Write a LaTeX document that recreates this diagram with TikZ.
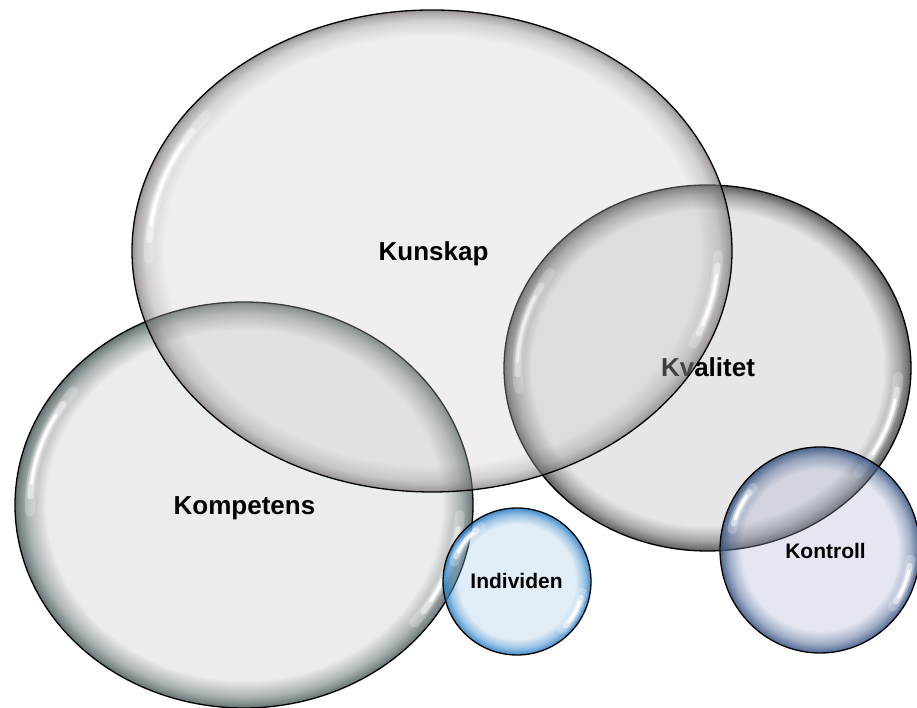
\documentclass[tikz,border=0pt]{standalone}
\usepackage{fontspec}
\setmainfont{Liberation Sans}
\usetikzlibrary{shapes.geometric,fadings}
\definecolor{kunBody}{RGB}{205,200,202}
\definecolor{kunRing}{RGB}{95,88,88}
\definecolor{komBody}{RGB}{190,192,192}
\definecolor{komRing}{RGB}{40,60,60}
\definecolor{kvaBody}{RGB}{172,172,172}
\definecolor{kvaRing}{RGB}{30,30,30}
\definecolor{indBody}{RGB}{160,198,228}
\definecolor{indRing}{RGB}{30,120,195}
\definecolor{konBody}{RGB}{165,175,210}
\definecolor{konRing}{RGB}{48,78,125}
\pgfdeclareradialshading{ringbigsh}{\pgfpointorigin}{color(0bp)=(pgftransparent!100); color(22.2bp)=(pgftransparent!100); color(23.8bp)=(pgftransparent!80); color(24.6bp)=(pgftransparent!55); color(25bp)=(pgftransparent!32); color(50bp)=(pgftransparent!32)}
\pgfdeclarefading{ringbig}{\pgfuseshading{ringbigsh}}
\pgfdeclareradialshading{ringmidsh}{\pgfpointorigin}{color(0bp)=(pgftransparent!100); color(21.5bp)=(pgftransparent!100); color(23.5bp)=(pgftransparent!68); color(24.6bp)=(pgftransparent!40); color(25bp)=(pgftransparent!25); color(50bp)=(pgftransparent!25)}
\pgfdeclarefading{ringmid}{\pgfuseshading{ringmidsh}}
\pgfdeclareradialshading{ringsmallsh}{\pgfpointorigin}{color(0bp)=(pgftransparent!100); color(19.5bp)=(pgftransparent!100); color(22.5bp)=(pgftransparent!65); color(24.3bp)=(pgftransparent!30); color(25bp)=(pgftransparent!12); color(50bp)=(pgftransparent!12)}
\pgfdeclarefading{ringsmall}{\pgfuseshading{ringsmallsh}}
\tikzset{
  bubble/.style={ellipse, inner sep=0pt, outer sep=0pt, draw=black, line width=1.3pt,
    fill opacity=0.3, draw opacity=1},
  ring/.style 2 args={path picture={\fill[#1, fill opacity=1, path fading=#2]
    (path picture bounding box.south west) rectangle (path picture bounding box.north east);}},
  hlhalo/.style={white, line width=10pt, opacity=0.25, line cap=round},
  hlglow/.style={white, line width=6pt, opacity=0.5, line cap=round},
  hlcore/.style={white, line width=3pt, opacity=0.95, line cap=round},
  bigtext/.style={font=\bfseries\fontsize{26}{30}\selectfont, anchor=base, inner sep=0pt},
  smalltext/.style={font=\bfseries\fontsize{21}{25}\selectfont, anchor=base, inner sep=0pt}
}
\newcommand\bubhl[6]{\draw[#6, shift={(#1.center)}] (#4:#2 and #3) arc[start angle=#4, end angle=#5, x radius=#2, y radius=#3];}
\newcommand\bubshine[5]{%
  \pgfmathsetmacro\hlA{#4+0.12*(#5-#4)}%
  \pgfmathsetmacro\hlB{#5-0.12*(#5-#4)}%
  \pgfmathsetmacro\hlC{#4+0.22*(#5-#4)}%
  \pgfmathsetmacro\hlD{#5-0.22*(#5-#4)}%
  \bubhl{#1}{#2}{#3}{#4}{#5}{hlhalo}%
  \bubhl{#1}{#2}{#3}{\hlA}{\hlB}{hlglow}%
  \bubhl{#1}{#2}{#3}{\hlC}{\hlD}{hlcore}}
\begin{document}
\begin{tikzpicture}[x=1pt,y=1pt]
\useasboundingbox (0,0) rectangle (917,708);
% Kompetens
\node[bubble, fill=komBody, ring={komRing}{ringmid}, minimum width=458pt, minimum height=406pt] (kom) at (244,203) {};
\bubshine{kom}{214}{189}{143}{182}
\bubshine{kom}{216}{191}{-3}{-38}
% Kvalitet
\node[bubble, fill=kvaBody, ring={kvaRing}{ringmid}, minimum width=407pt, minimum height=366pt] (kva) at (707.5,340) {};
\bubshine{kva}{190}{170}{146}{187}
\bubshine{kva}{191}{171}{-3}{-38}
\node[bigtext] (kvaT) at (708,331) {Kvalitet};
% Kunskap
\node[bubble, fill=kunBody, ring={kunRing}{ringbig}, minimum width=600pt, minimum height=482pt] (kun) at (432,457) {};
\bubshine{kun}{283}{225}{143}{182}
\bubshine{kun}{286}{228}{-1}{-24}
% Individen
\node[bubble, fill=indBody, ring={indRing}{ringsmall}, minimum width=148pt, minimum height=147pt] (ind) at (517,126.5) {};
\bubshine{ind}{66}{65}{123}{162}
\bubshine{ind}{66}{65}{-10}{-47}
% Kontroll
\node[bubble, fill=konBody, ring={konRing}{ringsmall}, minimum width=200pt, minimum height=206pt] (kon) at (820,158) {};
\bubshine{kon}{90}{93}{138}{167}
\bubshine{kon}{91}{94}{-6}{-37}
% texts
\node[bigtext] (kunT) at (433.5,447) {Kunskap};
\node[bigtext] (komT) at (244.5,193) {Kompetens};
\node[smalltext] (indT) at (516.5,119) {Individen};
\node[smalltext] (konT) at (825.5,149) {Kontroll};
\end{tikzpicture}
\end{document}
